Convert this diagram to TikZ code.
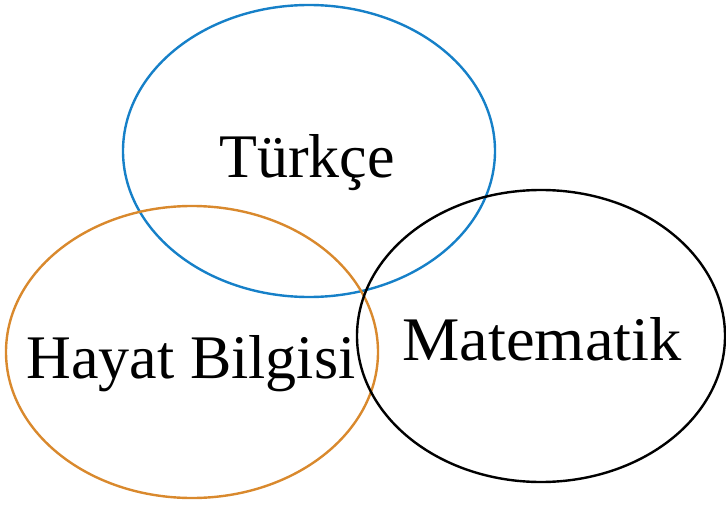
\documentclass[tikz,border=0pt]{standalone}
\usepackage{fontspec}
\setmainfont{Liberation Serif}
\usetikzlibrary{shapes.geometric}
\definecolor{setblue}{RGB}{22,128,200}
\definecolor{setorange}{RGB}{217,137,45}

\begin{document}
\begin{tikzpicture}[x=1pt,y=-1pt,
  set/.style={ellipse,draw,line width=2.4pt,minimum width=372pt,minimum height=292pt,inner sep=0pt},
  word/.style={font=\fontsize{62}{72}\selectfont,anchor=base,inner sep=0pt}]
  \useasboundingbox (0,0) rectangle (726,506);
  \node[set,draw=setblue]   (T) at (309,151) {};
  \node[set,draw=setorange] (H) at (192,352) {};
  \node[set,draw=black,minimum width=368pt] (M) at (541,336) {};
  \node[word] (tT) at (307,177) {Türkçe};
  \node[word] (tH) at (191,378) {Hayat Bilgisi};
  \node[word,xscale=1.04] (tM) at (542,360) {Matematik};
\end{tikzpicture}
\end{document}
